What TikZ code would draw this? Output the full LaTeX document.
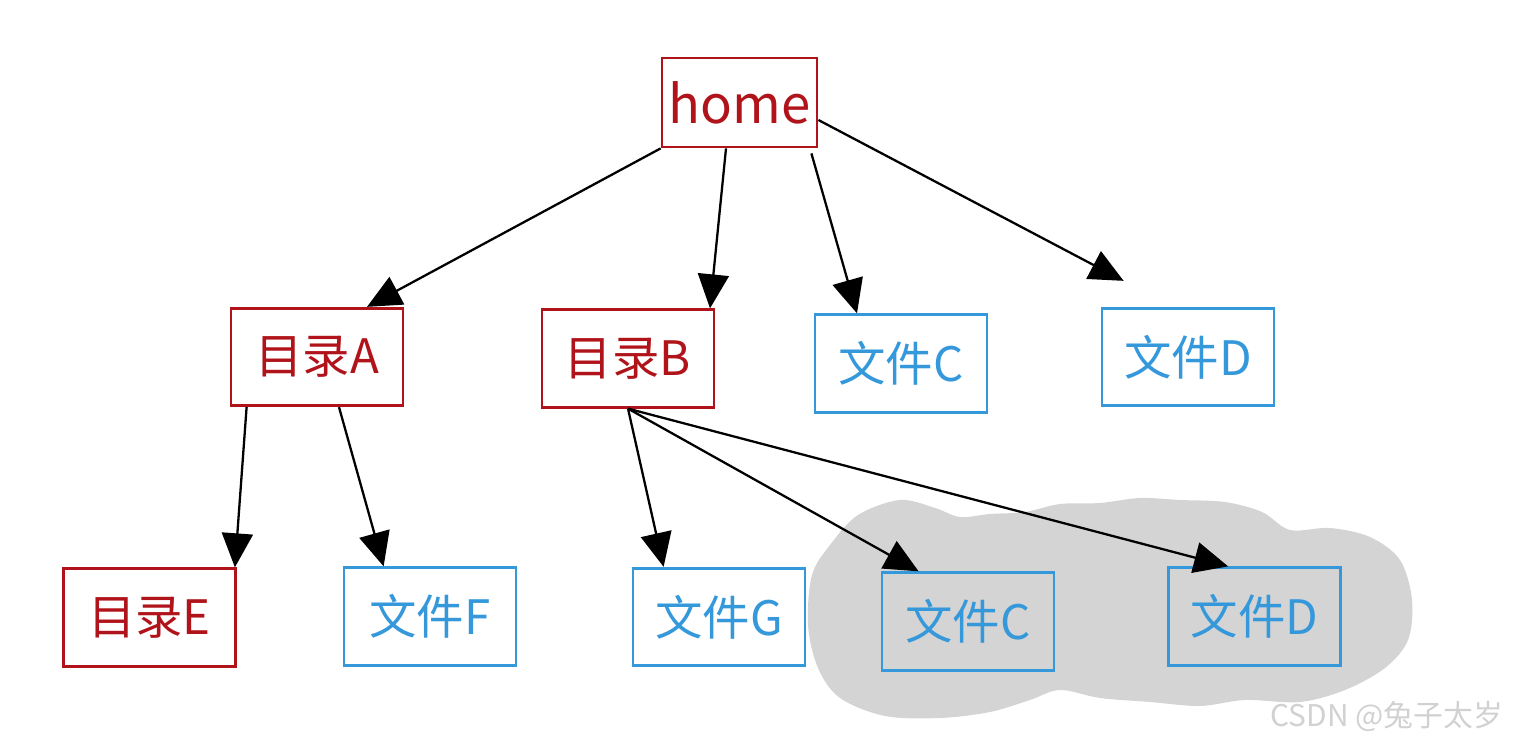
\documentclass[tikz,border=0pt]{standalone}
\usepackage{fontspec}
\setmainfont{Noto Sans CJK SC}
\usepackage{tikz}
\usetikzlibrary{arrows.meta,calc}
\definecolor{dirred}{HTML}{B0141A}
\definecolor{fileblue}{HTML}{3498DB}
\definecolor{cloudgray}{HTML}{D4D4D4}

\begin{document}
\begin{tikzpicture}[x=0.02cm,y=-0.02cm,->,>={Triangle[length=0.68cm,width=0.62cm]},line width=1.3pt]
        \tikzstyle{box} = [rectangle, draw, line width=1.6pt, minimum width=3.44cm, minimum height=1.95cm, font=\fontsize{27}{30}\selectfont, text centered]
        \tikzstyle{dirbox} = [box, draw=dirred, text=dirred]
        \tikzstyle{filebox} = [box, draw=fileblue, text=fileblue]
        \useasboundingbox (0,0) rectangle (1514,742);

        % Cloud
        \fill[cloudgray] plot[smooth cycle, tension=0.55] coordinates {
            (812,575) (830,545) (858,515) (900,500) (935,508) (960,517) (990,514)
            (1025,512) (1060,504) (1100,503) (1140,498) (1180,500) (1225,502)
            (1262,512) (1290,530) (1330,528) (1370,537) (1400,560) (1412,600)
            (1408,640) (1385,668) (1345,690) (1300,702) (1245,700) (1200,706)
            (1150,702) (1100,698) (1060,690) (1030,700) (990,712) (940,718)
            (885,716) (840,698) (818,668) (808,625)};

        % Nodes
        \node[dirbox, minimum width=3.1cm, minimum height=1.78cm, inner sep=1pt, font=\fontsize{30}{32}\selectfont] (d0) at (739.5,102.5) {home};
        \node[dirbox] (dA) at (317,357) {目录A};
        \node[dirbox] (dB) at (628,358.5) {目录B};
        \node[filebox] (fC) at (901,363.5) {文件C};
        \node[filebox] (fD) at (1188,357) {文件D};
        \node[dirbox] (dE) at (149.5,617.5) {目录E};
        \node[filebox] (fF) at (430,616.5) {文件F};
        \node[filebox] (fG) at (719,617) {文件G};
        \node[filebox] (fC2) at (968,621.5) {文件C};
        \node[filebox] (fD2) at (1254.5,616.5) {文件D};
        \node[anchor=east, text=black!18, font=\fontsize{17}{20}\selectfont] (mark) at (1510,716) {CSDN @兔子太岁};

        % Edges
        \path (d0.south west) edge ($(dA.north)+(50,0)$);
        \path ($(d0.south)+(-13.5,0)$) edge ($(dB.north)+(82,0)$);
        \path ($(d0.south east)+(-7,5)$) edge ($(fC.north)+(-44,0)$);
        \path ($(d0.east)+(0,17.5)$) edge ($(fD.north west)+(23,-26)$);
        \path ($(dA.south west)+(17,0)$) edge ($(dE.north east)+(-2,0)$);
        \path ($(dA.south)+(22,0)$) edge ($(fF.north west)+(41,0)$);
        \path (dB.south) edge ($(fG.north west)+(32,0)$);
        \path (dB.south) edge ($(fC2.north west)+(38,0)$);
        \path (dB.south) edge ($(fD2.north west)+(61,0)$);
        %\path (dB) edge (fD);
\end{tikzpicture}
\end{document}
